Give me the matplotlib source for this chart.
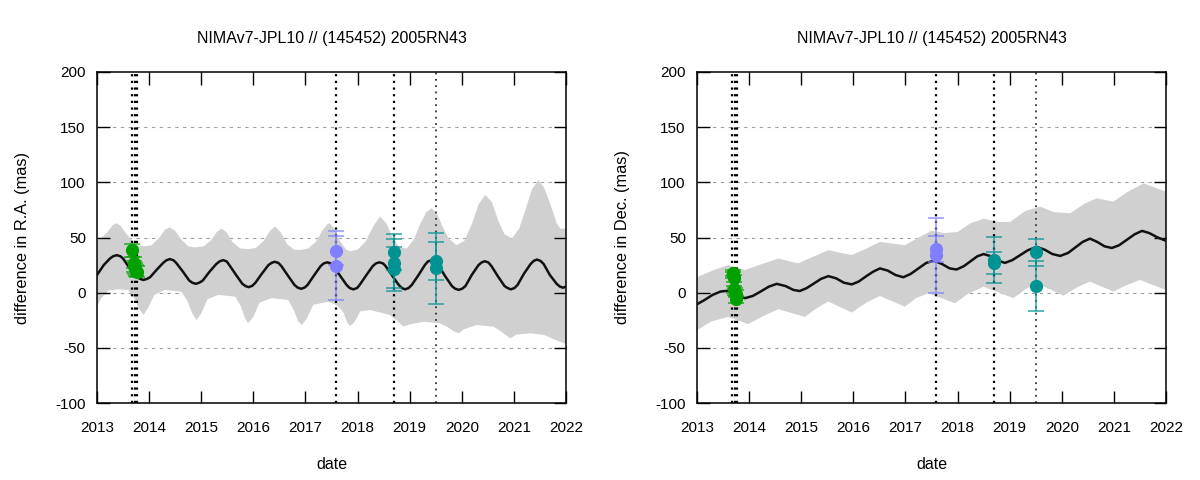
import matplotlib
matplotlib.use("Agg")
import matplotlib.pyplot as plt

plt.rcParams["font.family"] = ["Liberation Sans", "DejaVu Sans"]
plt.rcParams["font.size"] = 11
plt.rcParams["axes.unicode_minus"] = False

TITLE = "NIMAv7-JPL10 // (145452) 2005RN43"
YEARS = list(range(2013, 2023))
YTICKS = [-100, -50, 0, 50, 100, 150, 200]

# observation epochs (vertical dotted lines)
obs_lines = [2013.68, 2013.725, 2013.76, 2017.58, 2018.69]
obs_light = [2019.51]

# ---- R.A. model curve (mas) ----
ra_t = [2013.00, 2013.13, 2013.25, 2013.31, 2013.38, 2013.45, 2013.50, 2013.63, 2013.75, 2013.82, 2013.89, 2013.96,
        2014.02, 2014.15, 2014.27, 2014.33, 2014.40, 2014.47, 2014.52, 2014.65, 2014.77, 2014.83, 2014.90, 2014.97,
        2015.03, 2015.16, 2015.29, 2015.35, 2015.42, 2015.49, 2015.54, 2015.67, 2015.79, 2015.85, 2015.91, 2015.98,
        2016.04, 2016.16, 2016.29, 2016.35, 2016.41, 2016.48, 2016.54, 2016.67, 2016.79, 2016.85, 2016.92, 2016.99,
        2017.04, 2017.17, 2017.29, 2017.35, 2017.42, 2017.49, 2017.54, 2017.67, 2017.79, 2017.85, 2017.92, 2017.99,
        2018.04, 2018.17, 2018.29, 2018.35, 2018.42, 2018.49, 2018.54, 2018.67, 2018.79, 2018.85, 2018.91, 2018.98,
        2019.04, 2019.17, 2019.29, 2019.35, 2019.42, 2019.49, 2019.55, 2019.68, 2019.81, 2019.87, 2019.94, 2020.01,
        2020.07, 2020.19, 2020.32, 2020.38, 2020.44, 2020.51, 2020.57, 2020.69, 2020.82, 2020.88, 2020.94, 2021.01,
        2021.07, 2021.19, 2021.32, 2021.38, 2021.44, 2021.51, 2021.57, 2021.69, 2021.82, 2021.88, 2021.94, 2022.00]
ra_v = [16, 25, 31, 33, 34, 33, 31, 22, 15, 12.7, 11.5, 12.5,
        14, 21, 27, 29.3, 30.5, 29.3, 27, 19, 11, 9, 8, 9.2,
        11, 19, 26, 28.3, 29.5, 28.3, 25, 16, 8, 6, 5, 6.2,
        9, 17, 25, 27, 28, 27, 24, 15, 7, 4.6, 3.5, 4.8,
        7, 16, 24, 26.5, 27.5, 26.5, 24, 15, 7, 4.2, 3, 4.2,
        7, 16, 24, 26.5, 27.5, 26.5, 24, 15, 7, 4.2, 3, 4.2,
        7, 16, 25, 28.3, 29.5, 28.3, 25, 15, 6, 3.7, 2.5, 3.7,
        6, 16, 25, 27.4, 28.5, 27.4, 24, 15, 6, 4.2, 3, 4.2,
        7, 17, 26, 28.8, 30, 28.8, 26, 16, 8, 5.6, 4.5, 5.5]

ra_up_t = [2013.00, 2013.10, 2013.22, 2013.30, 2013.38, 2013.46, 2013.57, 2013.70, 2013.79, 2013.92,
           2014.05, 2014.20, 2014.30, 2014.40, 2014.50, 2014.62, 2014.75, 2014.88,
           2015.05, 2015.20, 2015.30, 2015.39, 2015.48, 2015.60, 2015.75, 2015.90,
           2016.05, 2016.20, 2016.32, 2016.42, 2016.52, 2016.65, 2016.78, 2016.90,
           2017.05, 2017.20, 2017.32, 2017.42, 2017.47, 2017.55, 2017.66, 2017.78, 2017.86,
           2018.00, 2018.15, 2018.30, 2018.43, 2018.55, 2018.68, 2018.80, 2018.94,
           2019.08, 2019.20, 2019.32, 2019.42, 2019.52, 2019.63, 2019.75, 2019.90,
           2020.05, 2020.20, 2020.32, 2020.45, 2020.58, 2020.70, 2020.82, 2020.96,
           2021.10, 2021.22, 2021.35, 2021.47, 2021.58, 2021.70, 2021.82, 2021.89, 2022.00]
ra_up_v = [47, 50, 56, 61, 63, 60, 53, 46, 43, 42,
           43, 50, 57, 59, 56, 48, 42, 41,
           42, 48, 55, 58, 55, 46, 40, 39.5,
           40.5, 47, 56, 60, 55, 44, 39, 38.7,
           40, 46, 56, 62, 63, 58, 47, 39, 37.5,
           39, 46, 60, 69, 63, 49, 41, 40,
           48, 62, 73, 76.5, 72, 60, 49, 43,
           47, 63, 80, 88.6, 82, 65, 53, 49,
           58, 75, 94, 102, 95, 80, 63, 58, 58]

ra_lo_t = [2013.00, 2013.08, 2013.22, 2013.40, 2013.60, 2013.72, 2013.80, 2013.89, 2013.98,
           2014.10, 2014.30, 2014.62, 2014.74, 2014.83, 2014.91, 2015.00,
           2015.12, 2015.33, 2015.65, 2015.76, 2015.84, 2015.90, 2016.00,
           2016.12, 2016.35, 2016.67, 2016.78, 2016.86, 2016.93, 2017.02,
           2017.15, 2017.44, 2017.62, 2017.73, 2017.80, 2017.86, 2017.95,
           2018.05, 2018.24, 2018.62, 2018.75, 2018.88, 2018.98,
           2019.27, 2019.58, 2019.72, 2019.85, 2019.94, 2020.05,
           2020.29, 2020.61, 2020.75, 2020.93, 2021.05, 2021.32, 2021.58, 2021.80, 2022.00]
ra_lo_v = [-12.7, -5, 2, 3, 2.4, -5, -14, -20.2, -14,
           -2, 2.4, 0.9, -8, -19, -24.8, -19,
           -6, -2, -3.6, -12, -23, -27.8, -22,
           -9, -5, -6.6, -16, -26, -29.3, -24,
           -11, -8.2, -12, -18, -27, -30.3, -26,
           -17, -15.7, -20.2, -25, -30.8, -29,
           -26.3, -27.8, -31, -35, -36.8, -33,
           -29.3, -30.8, -35, -41.4, -38, -36.8, -38.3, -43, -46.5]

# ---- Dec. model curve (mas) ----
de_t = [2013.00, 2013.15, 2013.30, 2013.45, 2013.60, 2013.75, 2013.92,
        2014.07, 2014.22, 2014.38, 2014.53, 2014.70, 2014.85, 2014.97,
        2015.10, 2015.25, 2015.38, 2015.52, 2015.67, 2015.82, 2015.97,
        2016.10, 2016.25, 2016.38, 2016.51, 2016.66, 2016.81, 2016.96,
        2017.10, 2017.25, 2017.40, 2017.55, 2017.70, 2017.85, 2017.98,
        2018.12, 2018.25, 2018.38, 2018.50, 2018.64, 2018.78, 2018.91,
        2019.05, 2019.20, 2019.35, 2019.52, 2019.67, 2019.82, 2019.97,
        2020.12, 2020.26, 2020.40, 2020.54, 2020.68, 2020.82, 2020.96,
        2021.10, 2021.25, 2021.40, 2021.54, 2021.68, 2021.84, 2022.00]
de_v = [-10.5, -6.5, -2, 1, 1.8, -2, -5,
        -3, 1, 5.5, 8, 6, 2.5, 1.5,
        4, 8.5, 12.5, 15, 13, 9, 7.5,
        10, 15, 19, 22, 20, 16, 14,
        17, 22, 27, 29, 26, 22, 21,
        24, 28.5, 33, 35, 33, 29, 27,
        29.5, 34, 38.5, 41.5, 39, 35, 33.3,
        36, 41, 46, 49, 46, 42, 40.5,
        43, 48, 53, 56, 54, 50, 47]

de_up_t = [2013.00, 2013.30, 2013.60, 2013.92, 2014.25, 2014.56, 2014.94, 2015.25,
           2015.52, 2015.97, 2016.25, 2016.51, 2016.99, 2017.25, 2017.50, 2017.75,
           2018.00, 2018.25, 2018.50, 2018.80, 2019.00, 2019.30, 2019.58, 2019.85,
           2020.16, 2020.45, 2020.67, 2020.99, 2021.25, 2021.57, 2021.80, 2022.00]
de_up_v = [14, 20, 25, 20.5, 26, 31, 26.5, 33,
           38.5, 34, 40, 46, 43, 50, 56, 54,
           55, 63, 67, 64, 64, 74, 78, 73,
           72, 81, 85.5, 82.5, 91, 99, 95, 91.5]

de_lo_t = [2013.00, 2013.28, 2013.60, 2013.98, 2014.28, 2014.56, 2015.07, 2015.30,
           2015.52, 2015.97, 2016.25, 2016.51, 2016.99, 2017.20, 2017.44, 2017.95,
           2018.20, 2018.50, 2019.07, 2019.30, 2019.52, 2020.03, 2020.30, 2020.54,
           2020.99, 2021.25, 2021.50, 2022.00]
de_lo_v = [-34, -26, -22, -28.5, -21, -15, -22, -14,
           -8, -18, -9, -3, -12.7, -5, -0.5, -9.6,
           -1, 5.4, -5, 3, 8.5, -2.7, 5, 10,
           1, 7, 11.5, 2.4]

# ---- observations: epoch, value, error per group ----
ra_green_t = [2013.68, 2013.71, 2013.72, 2013.73, 2013.74, 2013.76]
ra_green_v = [38.5, 27, 24, 22, 20, 19]
ra_green_e = [6, 5, 5, 5, 5, 5]
ra_blue_t = [2017.58, 2017.58]
ra_blue_v = [38, 24.5]
ra_blue_e = [13, 31]
ra_teal_t = [2018.69, 2018.69, 2018.69, 2019.51, 2019.51]
ra_teal_v = [37, 26.5, 21.5, 28.5, 22]
ra_teal_e = [16.5, 22, 20, 17, 32]

de_green_t = [2013.69, 2013.70, 2013.71, 2013.72, 2013.73, 2013.74, 2013.75]
de_green_v = [18, 16, 13, 3, 1, -1, -6]
de_green_e = [3, 3, 3, 3, 3, 3, 3]
de_blue_t = [2017.58, 2017.58]
de_blue_v = [39.5, 34]
de_blue_e = [12, 34]
de_teal_t = [2018.69, 2018.69, 2019.51, 2019.51]
de_teal_v = [29.5, 27, 36.5, 6]
de_teal_e = [21, 10, 12, 23]

GREEN = "#00a000"
BLUE = "#7f7fff"
TEAL = "#009393"
BAND = "#d0d0d0"


def draw_panel(ax, mt, mv, ut, uv, lt, lv, groups, ylabel):
    # band = polygon along the upper edge, back along the lower edge
    ax.fill(list(ut) + list(lt)[::-1], list(uv) + list(lv)[::-1],
            color=BAND, lw=0, zorder=1)
    for y in YTICKS[1:-1]:
        ax.axhline(y, color="#a0a0a0", lw=0.8, ls=(0, (3, 4)), zorder=0.5)
    for x in obs_lines:
        ax.axvline(x, color="black", lw=1.6, ls=(0, (1, 2)), zorder=2)
    for x in obs_light:
        ax.axvline(x, color="#333333", lw=1.3, ls=(0, (1, 2.5)), zorder=2)
    ax.plot(mt, mv, color="#111111", lw=1.8, zorder=3, solid_joinstyle="round")
    for t, v, e, c in groups:
        ax.errorbar(t, v, yerr=e, fmt="none", ecolor=c, elinewidth=1.2,
                    capsize=6, capthick=1.2, alpha=0.75, zorder=4)
        ax.plot(t, v, "o", color=c, ms=9.5, mec="none", zorder=5)

    ax.set_xlim(2013, 2022)
    ax.set_ylim(-100, 200)
    ax.set_xticks(YEARS)
    ax.set_yticks(YTICKS)
    ax.tick_params(direction="in", length=9, width=1, top=True, right=True,
                   labelsize=11)
    ax.tick_params(axis="x", pad=13)
    ax.tick_params(axis="y", pad=8)
    for s in ax.spines.values():
        s.set_linewidth(1.1)
    ax.set_title(TITLE, fontsize=11.5, pad=21)
    ax.set_xlabel("date", fontsize=11.5, labelpad=16)
    ax.set_ylabel(ylabel, fontsize=11.8, labelpad=18)


fig = plt.figure(figsize=(12, 4.8), dpi=100)
ax1 = fig.add_axes([0.0808, 0.1604, 0.3909, 0.6896])
ax2 = fig.add_axes([0.5808, 0.1604, 0.3909, 0.6896])

draw_panel(ax1, ra_t, ra_v, ra_up_t, ra_up_v, ra_lo_t, ra_lo_v,
           [(ra_green_t, ra_green_v, ra_green_e, GREEN),
            (ra_blue_t, ra_blue_v, ra_blue_e, BLUE),
            (ra_teal_t, ra_teal_v, ra_teal_e, TEAL)],
           "difference in R.A. (mas)")
draw_panel(ax2, de_t, de_v, de_up_t, de_up_v, de_lo_t, de_lo_v,
           [(de_green_t, de_green_v, de_green_e, GREEN),
            (de_blue_t, de_blue_v, de_blue_e, BLUE),
            (de_teal_t, de_teal_v, de_teal_e, TEAL)],
           "difference in Dec. (mas)")

fig.savefig("out.png", dpi=100)
